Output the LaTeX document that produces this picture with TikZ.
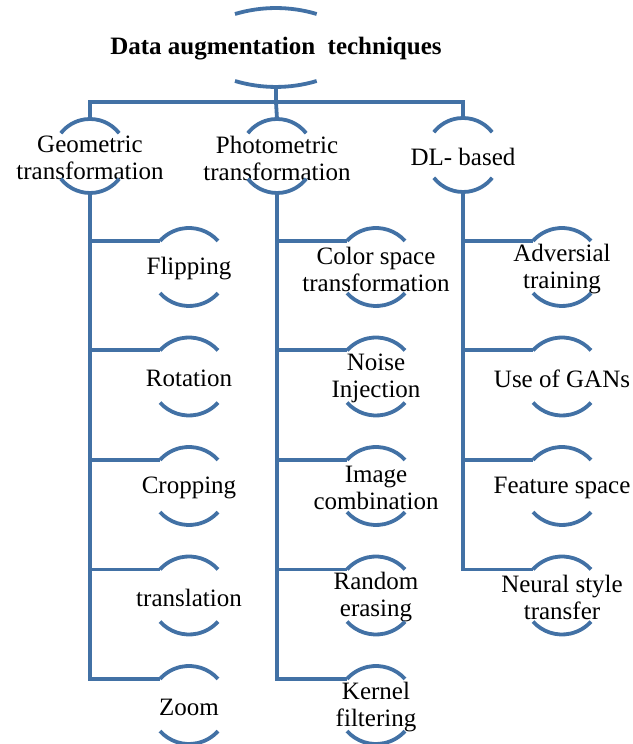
\documentclass[tikz,border=0pt]{standalone}
\usepackage{fontspec}
\setmainfont{Liberation Serif}
\definecolor{linkblue}{RGB}{66,113,165}
\tikzset{
  link/.style={draw=linkblue, line width=3.8pt},
  item text/.style={font=\fontsize{25}{27}\selectfont, align=center, inner sep=0pt, text=black},
  title text/.style={item text, font=\fontsize{25}{27}\selectfont\bfseries},
}
% An item: text centred on a circle, of which only a top and a bottom arc are drawn.
% #1 name, #2 centre, #3 radius, #4 half angle of each arc, #5 text
\newcommand\ringitem[5]{%
  \coordinate (#1) at (#2);
  \node[item text] (#1-txt) at ([yshift=-2pt]#1) {#5};
  \draw[link] ([shift={({90-#4}:#3)}]#1) arc[start angle={90-#4}, end angle={90+#4}, radius=#3];
  \draw[link] ([shift={({270-#4}:#3)}]#1) arc[start angle={270-#4}, end angle={270+#4}, radius=#3];
  \coordinate (#1-top) at ([shift={(90:#3)}]#1);
  \coordinate (#1-bot) at ([shift={(270:#3)}]#1);
  \coordinate (#1-in) at ([shift={({90+#4}:#3)}]#1);
}
\begin{document}
\begin{tikzpicture}[x=1pt,y=1pt]
\useasboundingbox (0,0) rectangle (632,744);

% root
\node[title text] (root) at (276,695) {Data augmentation\ \ techniques};
\coordinate (root-tl) at (235,730);
\coordinate (root-bl) at (235,663);
\draw[link] (root-tl) arc[start angle=106.6, end angle=73.4, radius=143];
\draw[link] (root-bl) arc[start angle=253.4, end angle=286.6, radius=143];
\coordinate (root-bot) at (276,657);
\coordinate (bus) at (276,642);

% first level
\ringitem{geo}{90,588}{37}{52}{Geometric\\transformation}
\ringitem{pho}{277,588}{37}{52}{Photometric\\transformation}
\ringitem{dl}{463,589}{37}{52}{DL- based}

% second level: geometric
\ringitem{flip}{189,477}{39}{48}{Flipping}
\ringitem{rot}{189,367.5}{39}{48}{Rotation}
\ringitem{crop}{189,258}{39}{48}{Cropping}
\ringitem{trans}{189,148.5}{39}{48}{translation}
\ringitem{zoom}{189,39}{39}{48}{Zoom}

% second level: photometric
\ringitem{color}{376,477}{39}{48}{Color space\\transformation}
\ringitem{noise}{376,367.5}{39}{48}{Noise\\Injection}
\ringitem{comb}{376,258}{39}{48}{Image\\combination}
\ringitem{erase}{376,148.5}{39}{48}{Random\\erasing}
\ringitem{kern}{376,39}{39}{48}{Kernel\\filtering}

% second level: DL based
\ringitem{adv}{562,477}{39}{48}{Adversial\\training}
\ringitem{gan}{562,367.5}{39}{48}{Use of GANs}
\ringitem{feat}{562,258}{39}{48}{Feature space}
\ringitem{style}{562,148.5}{39}{48}{Neural style\\transfer}

% connectors from the root
\draw[link] (root-bot) -- (bus);
\draw[link] (geo-top) |- (bus) -| (dl-top);
\draw[link] (bus) -- (pho-top);

% geometric branch
\draw[link] (geo-bot) |- (zoom-in);
\foreach \c in {flip,rot,crop,trans} \draw[link] (geo-bot) |- (\c-in);

% photometric branch
\draw[link] (pho-bot) |- (kern-in);
\foreach \c in {color,noise,comb,erase} \draw[link] (pho-bot) |- (\c-in);

% DL based branch
\draw[link] (dl-bot) |- (style-in);
\foreach \c in {adv,gan,feat} \draw[link] (dl-bot) |- (\c-in);
\end{tikzpicture}
\end{document}
